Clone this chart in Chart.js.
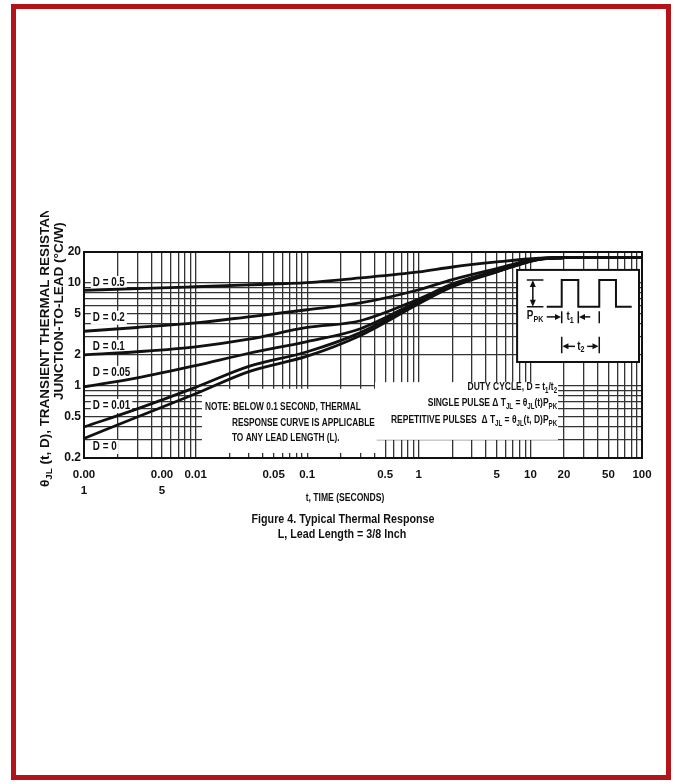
<!DOCTYPE html>
<html>
<head>
<meta charset="utf-8">
<title>Figure 4. Typical Thermal Response</title>
<script src="https://cdn.jsdelivr.net/npm/chart.js@4.4.1/dist/chart.umd.min.js"></script>
<style>
  html, body { margin: 0; padding: 0; background: #fff; }
  #wrap { position: relative; width: 675px; height: 784px; }
  #frame { position: absolute; left: 11px; top: 4px; width: 660px; height: 776px;
           border: 5px solid #b3141b; box-sizing: border-box; pointer-events: none; }
</style>
</head>
<body>
<div id="wrap">
  <canvas id="thermalChart" width="675" height="784"></canvas>
  <div id="frame"></div>
</div>
<script>
// pulse time t (seconds)
const times = [0.001, 0.003, 0.01, 0.03, 0.1, 0.3, 1, 2, 5, 12, 20, 100];

// transient thermal resistance (°C/W), one list per duty cycle
const zD05  = [8.5, 8.8, 9.2, 9.6, 10.1, 11.2, 12.8, 14.3, 16.0, 17.4, 17.6, 17.7];
const zD02  = [3.4, 3.7, 4.1, 4.7, 5.5, 6.4, 8.6, 10.8, 13.8, 17.2, 17.6, 17.7];
const zD01  = [2.0, 2.15, 2.4, 2.85, 3.7, 4.3, 7.0, 9.8, 13.2, 17.1, 17.6, 17.7];
const zD005 = [0.98, 1.2, 1.58, 2.08, 2.7, 3.6, 6.7, 9.5, 13.0, 17.1, 17.6, 17.7];
const zD001 = [0.40, 0.6, 0.97, 1.55, 2.15, 3.3, 6.5, 9.3, 12.9, 17.0, 17.6, 17.7];
const zD0   = [0.31, 0.5, 0.84, 1.38, 1.95, 3.1, 6.3, 9.2, 12.8, 17.0, 17.6, 17.7];

// curve labels
const dutyLabels = ['D = 0.5', 'D = 0.2', 'D = 0.1', 'D = 0.05', 'D = 0.01', 'D = 0'];
const dutyLabelY = [10.0, 4.6, 2.4, 1.34, 0.64, 0.256];
const dutyLabelT = 0.0012;

// tick labels
const xLabelValues = [0.001, 0.005, 0.01, 0.05, 0.1, 0.5, 1, 5, 10, 20, 50, 100];
const xLabelTexts = [['0.00', '1'], ['0.00', '5'], '0.01', '0.05', '0.1', '0.5', '1', '5', '10', '20', '50', '100'];
const yLabelValues = [0.2, 0.5, 1, 2, 5, 10, 20];
const yLabelTexts = ['0.2', '0.5', '1', '2', '5', '10', '20'];

// white boxes inside the plot, in data units (t range, value range)
const noteBox  = { t0: 0.0114, t1: 0.42, v0: 0.224, v1: 0.94 };
const dutyBox  = { t0: 0.405, t1: 17.7, v0: 0.30, v1: 1.09 };
const insetBox = { t0: 7.6, t1: 94, v0: 1.71, v1: 13.4 };

const noteLines = ['NOTE: BELOW 0.1 SECOND, THERMAL', 'RESPONSE CURVE IS APPLICABLE', 'TO ANY LEAD LENGTH (L).'];

// grid: every 1..9 step of each decade
function logGrid(lo, hi) {
  const out = [];
  for (let e = Math.floor(Math.log10(lo)); e <= Math.ceil(Math.log10(hi)); e++) {
    for (let m = 1; m <= 9; m++) {
      const v = Number((m * Math.pow(10, e)).toPrecision(6));
      if (v >= lo - 1e-12 && v <= hi + 1e-12) out.push(v);
    }
  }
  return out;
}
const xGrid = logGrid(0.001, 100);
const yGrid = logGrid(0.2, 20);

function hasFont(name) {
  const c = document.createElement('canvas').getContext('2d');
  c.font = '20px monospace';
  const a = c.measureText('abcdefghijklmW0123').width;
  c.font = '20px "' + name + '", monospace';
  const b = c.measureText('abcdefghijklmW0123').width;
  return a !== b;
}
const NARROW = hasFont('Liberation Sans Narrow');
const FAMILY = NARROW ? '"Liberation Sans Narrow", "Liberation Sans", Arial, sans-serif'
                      : '"Liberation Sans", Arial, sans-serif';
const SX = NARROW ? 1 : 0.82;
const WIDE = '"Liberation Sans", Arial, sans-serif';
const INK = '#111';

function findLabel(v, values, texts) {
  for (let i = 0; i < values.length; i++) {
    if (Math.abs(Math.log10(v) - Math.log10(values[i])) < 1e-6) return texts[i];
  }
  return '';
}

// text with subscripts: parts = [[text, isSub], ...]
function rich(ctx, parts, x, y, align, size, family, sx) {
  family = family || FAMILY;
  sx = sx || SX;
  const fonts = parts.map(p => 'bold ' + (p[1] ? size * 0.72 : size) + 'px ' + family);
  let w = 0;
  parts.forEach((p, i) => { ctx.font = fonts[i]; w += ctx.measureText(p[0]).width; });
  const sw = w * sx;
  const x0 = align === 'right' ? x - sw : align === 'center' ? x - sw / 2 : x;
  ctx.save();
  ctx.translate(x0, y);
  ctx.scale(sx, 1);
  ctx.textAlign = 'left';
  ctx.textBaseline = 'middle';
  let px = 0;
  parts.forEach((p, i) => {
    ctx.font = fonts[i];
    ctx.fillText(p[0], px, p[1] ? size * 0.3 : 0);
    px += ctx.measureText(p[0]).width;
  });
  ctx.restore();
  return sw;
}

function boxPx(chart, b) {
  const x = chart.scales.x, y = chart.scales.y;
  const L = x.getPixelForValue(b.t0), R = x.getPixelForValue(b.t1);
  const T = y.getPixelForValue(b.v1), B = y.getPixelForValue(b.v0);
  return { L, T, W: R - L, H: B - T };
}

function arrow(ctx, x1, y, x2) {
  const d = x2 > x1 ? 1 : -1;
  ctx.beginPath();
  ctx.moveTo(x1, y);
  ctx.lineTo(x2 - d * 4, y);
  ctx.stroke();
  ctx.beginPath();
  ctx.moveTo(x2, y);
  ctx.lineTo(x2 - d * 6, y - 3);
  ctx.lineTo(x2 - d * 6, y + 3);
  ctx.closePath();
  ctx.fill();
}

function drawInset(ctx, L, T, W, H) {
  const X = f => L + f * W, Y = f => T + f * H;
  ctx.fillStyle = '#fff';
  ctx.fillRect(L, T, W, H);
  ctx.strokeStyle = INK;
  ctx.fillStyle = INK;
  ctx.lineWidth = 2;
  ctx.strokeRect(L, T, W, H);
  // pulse train
  ctx.beginPath();
  ctx.moveTo(X(0.243), Y(0.40));
  [[0.366, 0.40], [0.366, 0.11], [0.502, 0.11], [0.502, 0.40], [0.674, 0.40],
   [0.674, 0.11], [0.811, 0.11], [0.811, 0.40], [0.94, 0.40]].forEach(p => ctx.lineTo(X(p[0]), Y(p[1])));
  ctx.stroke();
  ctx.lineWidth = 1.5;
  // amplitude arrow
  ctx.beginPath();
  ctx.moveTo(X(0.08), Y(0.11)); ctx.lineTo(X(0.216), Y(0.11));
  ctx.moveTo(X(0.08), Y(0.40)); ctx.lineTo(X(0.216), Y(0.40));
  ctx.moveTo(X(0.129), Y(0.17)); ctx.lineTo(X(0.129), Y(0.34));
  ctx.stroke();
  [[0.11, -1], [0.40, 1]].forEach(a => {
    ctx.beginPath();
    ctx.moveTo(X(0.129), Y(a[0]));
    ctx.lineTo(X(0.129) - 3, Y(a[0]) - a[1] * 7);
    ctx.lineTo(X(0.129) + 3, Y(a[0]) - a[1] * 7);
    ctx.closePath();
    ctx.fill();
  });
  rich(ctx, [['P'], ['PK', 1]], X(0.08), Y(0.50), 'left', 12);
  // t1
  ctx.beginPath();
  ctx.moveTo(X(0.366), Y(0.45)); ctx.lineTo(X(0.366), Y(0.58));
  ctx.moveTo(X(0.502), Y(0.45)); ctx.lineTo(X(0.502), Y(0.58));
  ctx.moveTo(X(0.674), Y(0.45)); ctx.lineTo(X(0.674), Y(0.58));
  ctx.stroke();
  arrow(ctx, X(0.243), Y(0.51), X(0.36));
  arrow(ctx, X(0.60), Y(0.51), X(0.508));
  rich(ctx, [['t'], ['1', 1]], X(0.434), Y(0.51), 'center', 12);
  // t2
  ctx.beginPath();
  ctx.moveTo(X(0.366), Y(0.725)); ctx.lineTo(X(0.366), Y(0.906));
  ctx.moveTo(X(0.674), Y(0.725)); ctx.lineTo(X(0.674), Y(0.906));
  ctx.stroke();
  arrow(ctx, X(0.475), Y(0.83), X(0.372));
  arrow(ctx, X(0.575), Y(0.83), X(0.668));
  rich(ctx, [['t'], ['2', 1]], X(0.522), Y(0.83), 'center', 12);
}

const decor = {
  id: 'decor',
  beforeDatasetsDraw(chart) {
    const ctx = chart.ctx;
    const xs = chart.scales.x, ys = chart.scales.y;
    ctx.save();
    ctx.fillStyle = INK;

    // note box
    let b = boxPx(chart, noteBox);
    ctx.fillStyle = '#fff';
    ctx.fillRect(b.L, b.T, b.W, b.H);
    ctx.fillStyle = INK;
    const nsx = SX * 0.88;
    rich(ctx, [[noteLines[0]]], b.L + 3, b.T + 18, 'left', 11.5, FAMILY, nsx);
    rich(ctx, [[noteLines[1]]], b.L + 30, b.T + 34, 'left', 11.5, FAMILY, nsx);
    rich(ctx, [[noteLines[2]]], b.L + 30, b.T + 49, 'left', 11.5, FAMILY, nsx);

    // duty cycle box
    b = boxPx(chart, dutyBox);
    ctx.fillStyle = '#fff';
    ctx.fillRect(b.L, b.T, b.W, b.H);
    ctx.fillStyle = INK;
    const r = b.L + b.W - 1;
    const dsx = SX * 0.9;
    rich(ctx, [['DUTY CYCLE, D = t'], ['1', 1], ['/t'], ['2', 1]], r, b.T + 5, 'right', 11.5, FAMILY, dsx);
    rich(ctx, [['SINGLE PULSE \u0394 T'], ['JL', 1], [' = \u03b8'], ['JL', 1], ['(t)P'], ['PK', 1]], r, b.T + 21, 'right', 11.5, FAMILY, dsx);
    rich(ctx, [['REPETITIVE PULSES  \u0394 T'], ['JL', 1], [' = \u03b8'], ['JL', 1], ['(t, D)P'], ['PK', 1]], r, b.T + 38, 'right', 11.5, FAMILY, dsx);

    // pulse inset
    b = boxPx(chart, insetBox);
    drawInset(ctx, b.L, b.T, b.W, b.H);

    // D labels
    dutyLabels.forEach((txt, i) => {
      const px = xs.getPixelForValue(dutyLabelT);
      const py = ys.getPixelForValue(dutyLabelY[i]);
      ctx.font = 'bold 12px ' + FAMILY;
      const w = ctx.measureText(txt).width * SX;
      ctx.fillStyle = '#fff';
      ctx.fillRect(px - 2, py - 7, w + 4, 14);
      ctx.fillStyle = INK;
      rich(ctx, [[txt]], px, py, 'left', 12);
    });
    ctx.restore();
  },
  afterDraw(chart) {
    const ctx = chart.ctx;
    const a = chart.chartArea;
    ctx.save();
    ctx.strokeStyle = INK;
    ctx.lineWidth = 2;
    ctx.strokeRect(a.left, a.top, a.right - a.left, a.bottom - a.top);
    ctx.fillStyle = INK;

    // y axis title, two rotated lines (first one runs past the figure's top crop)
    ctx.save();
    ctx.beginPath();
    ctx.rect(20, 211, 60, 300);
    ctx.clip();
    ctx.translate(45, 487);
    ctx.rotate(-Math.PI / 2);
    rich(ctx, [['\u03b8'], ['JL', 1], [' (t, D), TRANSIENT THERMAL RESISTANCE']], 0, 0, 'left', 13.5, WIDE, 1);
    ctx.restore();
    ctx.save();
    ctx.translate(59, 400);
    ctx.rotate(-Math.PI / 2);
    rich(ctx, [['JUNCTION-TO-LEAD (\u00b0C/W)']], 0, 0, 'left', 13.5, WIDE, 1);
    ctx.restore();

    // x axis title and caption
    rich(ctx, [['t, TIME (SECONDS)']], 345, 498, 'center', 11, FAMILY, SX * 0.95);
    rich(ctx, [['Figure 4. Typical Thermal Response']], 343, 519, 'center', 13.5, FAMILY, SX * 0.97);
    rich(ctx, [['L, Lead Length = 3/8 Inch']], 342, 534, 'center', 13.5, FAMILY, SX * 0.97);
    ctx.restore();
  }
};

const series = [zD05, zD02, zD01, zD005, zD001, zD0];
const GRID = '#333';

new Chart(document.getElementById('thermalChart'), {
  type: 'line',
  data: {
    datasets: series.map((s, k) => ({
      label: dutyLabels[k],
      data: times.map((t, i) => ({ x: t, y: s[i] })),
      borderColor: INK,
      borderWidth: 2.8,
      pointRadius: 0,
      cubicInterpolationMode: 'monotone',
      fill: false
    }))
  },
  options: {
    responsive: false,
    animation: false,
    layout: { padding: { left: 44, right: 33, top: 252, bottom: 784 - 458 - 44 } },
    plugins: { legend: { display: false }, tooltip: { enabled: false } },
    scales: {
      x: {
        type: 'logarithmic',
        min: 0.001,
        max: 100,
        afterBuildTicks: s => { s.ticks = xGrid.map(v => ({ value: v })); },
        afterFit: s => { s.height = 44; },
        grid: { color: GRID, lineWidth: 1.3, drawTicks: false },
        border: { display: false },
        ticks: {
          autoSkip: false,
          maxRotation: 0,
          padding: 8,
          color: INK,
          font: { family: FAMILY, size: 11.5, weight: 'bold', lineHeight: 1.45 },
          callback: v => findLabel(v, xLabelValues, xLabelTexts)
        }
      },
      y: {
        type: 'logarithmic',
        min: 0.2,
        max: 20,
        afterBuildTicks: s => { s.ticks = yGrid.map(v => ({ value: v })); },
        afterFit: s => { s.width = 40; },
        grid: { color: GRID, lineWidth: 1.3, drawTicks: false },
        border: { display: false },
        ticks: {
          autoSkip: false,
          padding: 3,
          color: INK,
          font: { family: FAMILY, size: 12, weight: 'bold' },
          callback: v => findLabel(v, yLabelValues, yLabelTexts)
        }
      }
    }
  },
  plugins: [decor]
});
</script>
</body>
</html>
